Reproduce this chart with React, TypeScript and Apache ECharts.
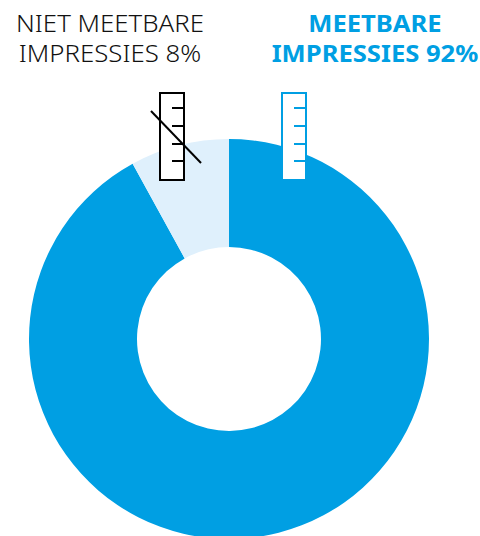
import React, { useEffect, useRef } from "react";
import * as echarts from "echarts";

const categories = ["MEETBARE IMPRESSIES", "NIET MEETBARE IMPRESSIES"];
const shares = [92, 8];
const sliceColors = ["#009FE3", "#DFF0FC"];
const headingFont = "'Noto Sans', 'Open Sans', sans-serif";
const tickRows = [108, 126, 144, 161];

// Measuring-stick icon: outlined box with four ticks on its right side.
function ruler(left: number, stroke: string) {
  const width = 24;
  return [
    {
      type: "rect",
      z: 10,
      shape: { x: left, y: 93, width, height: 87 },
      style: { fill: "#ffffff", stroke, lineWidth: 2 },
    },
    ...tickRows.map((y) => ({
      type: "line",
      z: 11,
      shape: { x1: left + 12, y1: y, x2: left + width, y2: y },
      style: { stroke, lineWidth: 2 },
    })),
  ];
}

export default function App() {
  const ref = useRef<HTMLDivElement>(null);

  useEffect(() => {
    const chart = echarts.init(ref.current!, null, { renderer: "svg" });
    chart.setOption({
      animation: false,
      series: [
        {
          type: "pie",
          center: [229, 339],
          radius: [92, 200],
          startAngle: 90,
          clockwise: true,
          label: { show: false },
          labelLine: { show: false },
          silent: true,
          data: categories.map((name, i) => ({
            name,
            value: shares[i],
            itemStyle: { color: sliceColors[i] },
          })),
        },
      ],
      graphic: [
        {
          type: "text",
          z: 12,
          x: 110,
          y: 7,
          scaleX: 1.075,
          style: {
            text: "NIET MEETBARE\nIMPRESSIES 8%",
            fill: "#111111",
            font: `300 24px ${headingFont}`,
            lineHeight: 30,
            align: "center",
          },
        },
        {
          type: "text",
          z: 12,
          x: 375,
          y: 7,
          scaleX: 1.067,
          style: {
            text: "MEETBARE\nIMPRESSIES 92%",
            fill: "#009FE3",
            font: `700 24px ${headingFont}`,
            lineHeight: 30,
            align: "center",
          },
        },
        ...ruler(160, "#000000"),
        ...ruler(282, "#009FE3"),
        {
          type: "line",
          z: 13,
          shape: { x1: 151, y1: 111, x2: 201, y2: 163 },
          style: { stroke: "#000000", lineWidth: 2 },
        },
      ],
    });
    return () => chart.dispose();
  }, []);

  return (
    <div
      ref={ref}
      style={{ position: "fixed", left: 0, top: 0, width: 480, height: 536, background: "#ffffff" }}
    />
  );
}
